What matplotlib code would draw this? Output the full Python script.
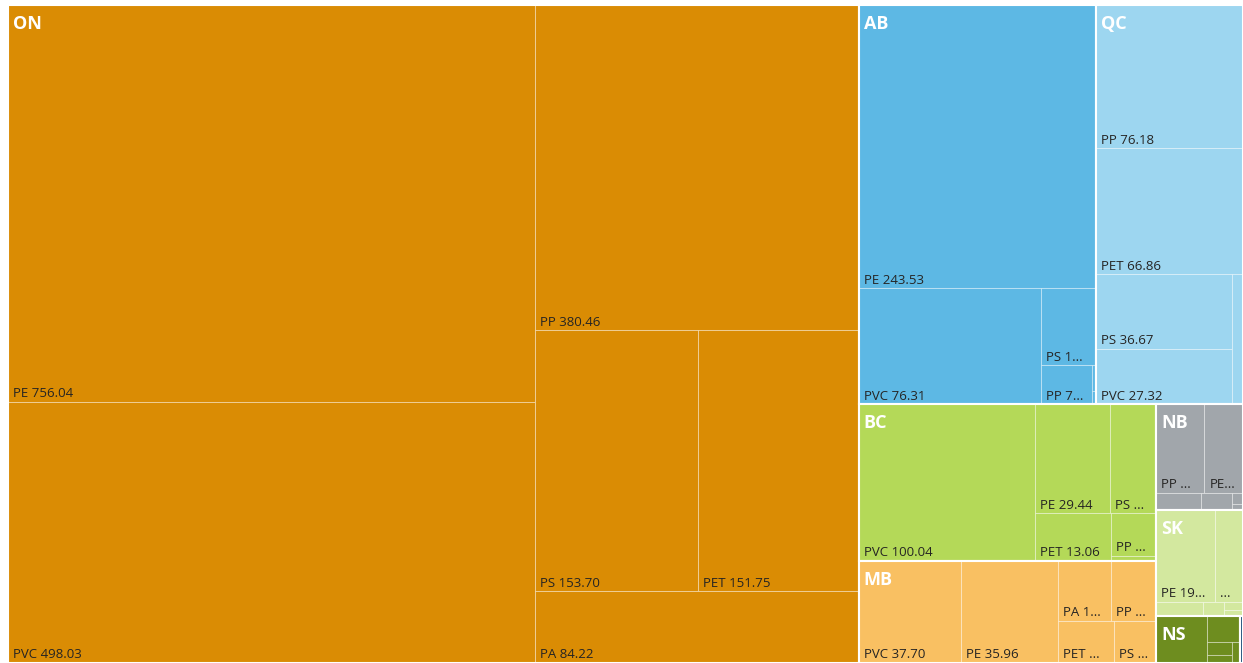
import matplotlib

matplotlib.use("Agg")
import matplotlib.pyplot as plt
from matplotlib.patches import Rectangle

# values per province, per plastic type
PROVINCES = ["ON", "AB", "QC", "BC", "MB", "NB", "SK", "NS", "NL"]
COLORS = ["#DA8C04", "#5DB8E4", "#9DD6F0", "#B4D958", "#F9C062",
          "#A1A6AB", "#D3E89F", "#6E8D1F", "#1F4E79"]

ON_TYPES = ["PE", "PVC", "PP", "PS", "PET", "PA"]
ON_VALUES = [756.04, 498.03, 380.46, 153.70, 151.75, 84.22]
AB_TYPES = ["PE", "PVC", "PS", "PP", "PET", "PA"]
AB_VALUES = [243.53, 76.31, 15.40, 7.12, 0.42, 0.21]
QC_TYPES = ["PP", "PET", "PS", "PVC", "PA"]
QC_VALUES = [76.18, 66.86, 36.67, 27.32, 4.97]
BC_TYPES = ["PVC", "PE", "PS", "PET", "PP", "PA"]
BC_VALUES = [100.04, 29.44, 18.30, 13.06, 6.95, 0.82]
MB_TYPES = ["PVC", "PE", "PA", "PP", "PET", "PS"]
MB_VALUES = [37.70, 35.96, 11.50, 9.80, 8.50, 6.40]
NB_TYPES = ["PP", "PE", "PVC", "PS", "PET", "PA"]
NB_VALUES = [15.52, 12.44, 2.78, 1.97, 0.44, 0.24]
SK_TYPES = ["PE", "PP", "PVC", "PS", "PET", "PA"]
SK_VALUES = [19.62, 9.20, 2.40, 1.07, 0.55, 0.45]
NS_TYPES = ["PE", "PP", "PVC", "PS", "PET"]
NS_VALUES = [8.70, 3.10, 1.20, 0.70, 0.60]
NL_TYPES = ["PE"]
NL_VALUES = [0.50]

TYPES = [ON_TYPES, AB_TYPES, QC_TYPES, BC_TYPES, MB_TYPES,
         NB_TYPES, SK_TYPES, NS_TYPES, NL_TYPES]
VALUES = [ON_VALUES, AB_VALUES, QC_VALUES, BC_VALUES, MB_VALUES,
          NB_VALUES, SK_VALUES, NS_VALUES, NL_VALUES]

PHI = (1 + 5 ** 0.5) / 2
W, H = 1243, 663
LABEL_FONT = ["Open Sans", "DejaVu Sans"]


def squarify(values, x0, y0, x1, y1, ratio=PHI):
    # d3-style squarified layout, values sorted descending, y grows downward
    rects = [None] * len(values)
    total = float(sum(values))
    n = len(values)
    i0 = i1 = 0
    while i0 < n:
        dx, dy = x1 - x0, y1 - y0
        sum_v = values[i1]
        i1 += 1
        min_v = max_v = sum_v
        alpha = max(dy / dx, dx / dy) / (total * ratio)
        beta = sum_v * sum_v * alpha
        min_ratio = max(max_v / beta, beta / min_v)
        while i1 < n:
            v = values[i1]
            s = sum_v + v
            mn, mx = min(min_v, v), max(max_v, v)
            beta = s * s * alpha
            new_ratio = max(mx / beta, beta / mn)
            if new_ratio > min_ratio:
                break
            sum_v, min_v, max_v, min_ratio = s, mn, mx, new_ratio
            i1 += 1
        if dx < dy:
            h = dy * sum_v / total
            cx = x0
            for k in range(i0, i1):
                w = dx * values[k] / sum_v
                rects[k] = (cx, y0, cx + w, y0 + h)
                cx += w
            y0 += h
        else:
            w = dx * sum_v / total
            cy = y0
            for k in range(i0, i1):
                h = dy * values[k] / sum_v
                rects[k] = (x0, cy, x0 + w, cy + h)
                cy += h
            x0 += w
        total -= sum_v
        i0 = i1
    return rects


def fit_label(ax, renderer, text, avail):
    t = ax.text(0, 0, text, fontsize=9.5, family=LABEL_FONT)
    cands = [text] + [text[:k] + "..." for k in range(len(text) - 1, -1, -1)]
    for c in cands:
        t.set_text(c)
        if t.get_window_extent(renderer).width <= avail:
            t.remove()
            return c
    t.remove()
    return None


fig = plt.figure(figsize=(W / 100, H / 100), dpi=100)
ax = fig.add_axes([0, 0, 1, 1])
ax.set_xlim(0, W)
ax.set_ylim(H, 0)
ax.axis("off")
renderer = fig.canvas.get_renderer()

totals = [sum(v) for v in VALUES]
group_rects = squarify(totals, 8, 5, W, H)

for name, color, types, vals, (gx0, gy0, gx1, gy1) in zip(
    PROVINCES, COLORS, TYPES, VALUES, group_rects
):
    child_rects = squarify(vals, gx0, gy0, gx1, gy1)
    for i, (t, v, (x0, y0, x1, y1)) in enumerate(zip(types, vals, child_rects)):
        ax.add_patch(Rectangle((x0, y0), x1 - x0, y1 - y0, facecolor=color,
                               edgecolor=(1, 1, 1, 0.35), lw=0.75))
        h = y1 - y0
        need = 50 if i == 0 else 28
        if h < need:
            continue
        label = fit_label(ax, renderer, f"{t} {v:.2f}", x1 - x0 - 12)
        if label:
            ax.text(x0 + 5, y1 - 4.5, label, fontsize=9.5, family=LABEL_FONT,
                    color="#252423", va="baseline", ha="left")
    ax.add_patch(Rectangle((gx0, gy0), gx1 - gx0, gy1 - gy0, facecolor="none",
                           edgecolor="white", lw=1.5))
    if gx1 - gx0 > 30 and gy1 - gy0 > 30:
        ax.text(gx0 + 5, gy0 + 24, name, fontsize=13, fontweight="bold",
                family=LABEL_FONT, color="white", va="baseline", ha="left")

fig.savefig("out.png", dpi=100, facecolor="white")
